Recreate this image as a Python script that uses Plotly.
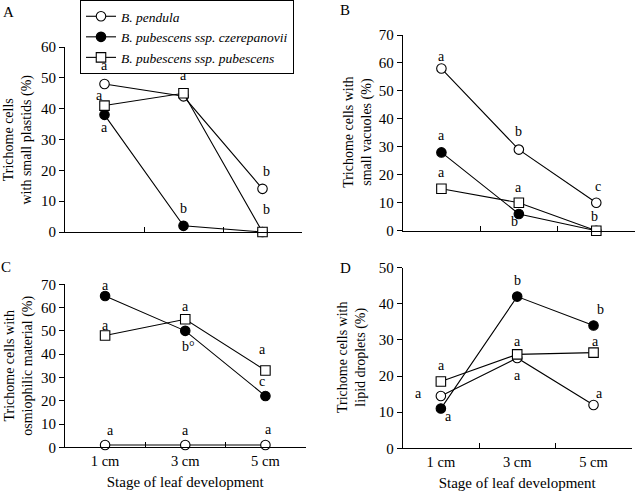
import plotly.graph_objects as go

stages = ["1 cm", "3 cm", "5 cm"]
series_names = ["B. pendula", "B. pubescens ssp. czerepanovii", "B. pubescens ssp. pubescens"]

# Panel A: small plastids
a_pendula = [48, 44, 14]
a_czerep = [38, 2, 0]
a_pubesc = [41, 45, 0]
# Panel B: small vacuoles
b_pendula = [58, 29, 10]
b_czerep = [28, 6, 0]
b_pubesc = [15, 10, 0]
# Panel C: osmiophilic material
c_pendula = [1, 1, 1]
c_czerep = [65, 50, 22]
c_pubesc = [48, 55, 33]
# Panel D: lipid droplets
d_pendula = [14.5, 25, 12]
d_czerep = [11, 42, 34]
d_pubesc = [18.5, 26, 26.5]

# significance letters: (series index, stage index, letter)
a_letters = [(0, 0, "a"), (2, 0, "a"), (1, 0, "a"), (2, 1, "a"), (1, 1, "b"), (0, 2, "b"), (2, 2, "b")]
b_letters = [(0, 0, "a"), (1, 0, "a"), (2, 0, "a"), (0, 1, "b"), (2, 1, "a"), (1, 1, "b"), (0, 2, "c"), (2, 2, "b")]
c_letters = [(1, 0, "a"), (2, 0, "a"), (0, 0, "a"), (2, 1, "a"), (1, 1, "b°"), (0, 1, "a"), (2, 2, "a"), (1, 2, "c"), (0, 2, "a")]
d_letters = [(2, 0, "a"), (0, 0, "a"), (1, 0, "a"), (1, 1, "b"), (2, 1, "a"), (0, 1, "a"), (1, 2, "b"), (2, 2, "a"), (0, 2, "a")]

# label pixel offsets (style only): (xshift, yshift)
a_off = [(0, 18), (-5, 10), (0, -13), (0, 18), (0, 17), (4, 17), (4, 23)]
b_off = [(0, 12), (0, 17), (0, 16), (0, 18), (0, 15), (-4, -8), (2, 16), (-2, 14)]
c_off = [(0, 10), (0, 10), (5, 14), (0, 13), (3, -16), (0, 14), (-3, 21), (-3, 15), (3, 15)]
d_off = [(1, 16), (-22, 2), (8, -8), (0, 16), (0, 13), (0, -17), (7, 16), (2, 11), (6, 11)]

FONT = "Liberation Serif"
W, H = 640, 491

panels = [
    dict(data=[a_pendula, a_czerep, a_pubesc], letters=a_letters, off=a_off, ymax=60, dtick=10,
         px=(65, 302), py=(232, 47), ytitle="Trichome cells<br>with small plastids (%)", tx=17, ticklabels=False,
         tag="A", tag_xy=(8, 12)),
    dict(data=[b_pendula, b_czerep, b_pubesc], letters=b_letters, off=b_off, ymax=70, dtick=10,
         px=(402.7, 635), py=(230.7, 35), ytitle="Trichome cells with<br>small vacuoles (%)", tx=358, ticklabels=False,
         tag="B", tag_xy=(345, 10)),
    dict(data=[c_pendula, c_czerep, c_pubesc], letters=c_letters, off=c_off, ymax=70, dtick=10,
         px=(65, 305.5), py=(447.3, 284.3), ytitle="Trichome cells with<br>osmiophilic material (%)", tx=19, ticklabels=True,
         tag="C", tag_xy=(6, 267)),
    dict(data=[d_pendula, d_czerep, d_pubesc], letters=d_letters, off=d_off, ymax=50, dtick=10,
         px=(402.7, 631.7), py=(448.3, 267.7), ytitle="Trichome cells with<br>lipid droplets (%)", tx=352, ticklabels=True,
         tag="D", tag_xy=(345, 268)),
]

fills = ["white", "black", "white"]
msyms = ["circle", "circle", "square"]

fig = go.Figure()
annotations = []
layout = {}
for i, p in enumerate(panels):
    n = "" if i == 0 else str(i + 1)
    xa, ya = "x" + n, "y" + n
    for s in range(3):
        fig.add_trace(go.Scatter(
            x=stages, y=p["data"][s], xaxis=xa, yaxis=ya,
            mode="lines+markers", name="<i>" + series_names[s] + "</i>",
            showlegend=(i == 0), cliponaxis=False,
            line=dict(color="black", width=1.1),
            marker=dict(symbol=msyms[s], size=9.5, color=fills[s], line=dict(color="black", width=1.1)),
        ))
    for (s, k, letter), (dx, dy) in zip(p["letters"], p["off"]):
        annotations.append(dict(x=stages[k], y=p["data"][s][k], xref=xa, yref=ya, text=letter,
                                showarrow=False, xshift=dx, yshift=dy, xanchor="center", yanchor="middle",
                                font=dict(family=FONT, size=14, color="black")))
    x0, x1 = p["px"]
    yb, yt = p["py"]
    layout["xaxis" + n] = dict(
        domain=[x0 / W, x1 / W], anchor=ya, type="category", range=[-0.5, 2.5], automargin=False,
        tickson="boundaries", ticks="inside", ticklen=5, tickcolor="black",
        showline=True, linecolor="black", linewidth=1, showgrid=False, zeroline=False,
        showticklabels=p["ticklabels"], tickfont=dict(family=FONT, size=14.5, color="black"),
        title=dict(text="Stage of leaf development" if p["ticklabels"] else "",
                   font=dict(family=FONT, size=15, color="black"), standoff=8),
    )
    layout["yaxis" + n] = dict(
        domain=[(H - yb) / H, (H - yt) / H], anchor=xa, range=[0, p["ymax"]], dtick=p["dtick"],
        automargin=False, ticks="outside", ticklen=5, tickcolor="black",
        showline=True, linecolor="black", linewidth=1, showgrid=False, zeroline=False,
        tickfont=dict(family=FONT, size=15, color="black"),
    )
    annotations.append(dict(x=p["tx"] / W, y=(H - (yb + yt) / 2) / H, xref="paper", yref="paper",
                            text=p["ytitle"], textangle=-90, showarrow=False,
                            xanchor="center", yanchor="middle",
                            font=dict(family=FONT, size=14, color="black")))
    annotations.append(dict(x=p["tag_xy"][0] / W, y=(H - p["tag_xy"][1]) / H, xref="paper", yref="paper",
                            text=p["tag"], showarrow=False, xanchor="center", yanchor="middle",
                            font=dict(family=FONT, size=15, color="black")))

fig.update_layout(
    template="none",
    width=W, height=H, margin=dict(l=0, r=0, t=0, b=0, pad=0, autoexpand=False),
    paper_bgcolor="white", plot_bgcolor="white",
    annotations=annotations,
    legend=dict(x=80 / W, y=1, xanchor="left", yanchor="top",
                bordercolor="black", borderwidth=1, bgcolor="rgba(255,255,255,0)",
                font=dict(family=FONT, size=13.5, color="black"),
                tracegroupgap=0, itemwidth=30),
    **layout,
)

fig.write_html("out.html", config={"displayModeBar": False},
               post_script="document.body.style.margin='0';document.body.style.padding='0';")
